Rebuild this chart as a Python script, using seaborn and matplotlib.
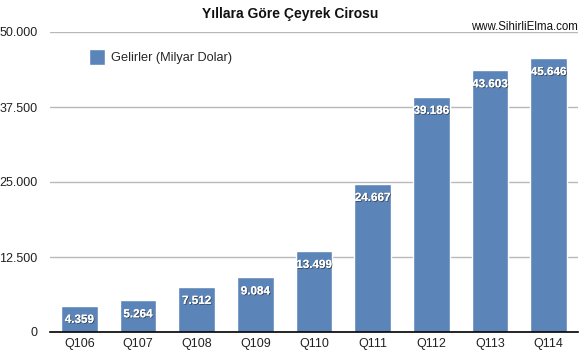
import matplotlib
matplotlib.use("Agg")
import matplotlib.pyplot as plt
import matplotlib.patheffects as pe
import seaborn as sns
import pandas as pd

quarters = ["Q106", "Q107", "Q108", "Q109", "Q110", "Q111", "Q112", "Q113", "Q114"]
revenues = [4.359, 5.264, 7.512, 9.084, 13.499, 24.667, 39.186, 43.603, 45.646]
yticks = [0, 12.5, 25, 37.5, 50]
ytick_labels = ["0", "12.500", "25.000", "37.500", "50.000"]
series_name = "Gelirler (Milyar Dolar)"
title = "Yıllara Göre Çeyrek Cirosu"
watermark = "www.SihirliElma.com"

df = pd.DataFrame({"Çeyrek": quarters, "Gelir": revenues})

sns.set_theme(style="white")
plt.rcParams["font.family"] = ["Liberation Sans", "DejaVu Sans"]

fig = plt.figure(figsize=(5.83, 3.55), dpi=100)
ax = fig.add_axes([50/583, 1 - 332/355, 528/583, 300/355])

bar_color = "#5b84b8"
sns.barplot(data=df, x="Çeyrek", y="Gelir", color=bar_color, width=0.63,
            saturation=1, ax=ax, zorder=3, label=series_name)

ax.set_ylim(0, 50)
ax.set_xlim(-0.5, len(quarters) - 0.5)
ax.set_yticks(yticks)
ax.set_yticklabels(ytick_labels, fontsize=9, color="#222222")
ax.tick_params(axis="x", labelsize=9, colors="#222222", length=0, pad=4)
ax.tick_params(axis="y", length=0, pad=9)
ax.set_xlabel("")
ax.set_ylabel("")
ax.yaxis.grid(True, color="#b8b8b8", linewidth=1, zorder=0)
for s in ["top", "right", "left"]:
    ax.spines[s].set_visible(False)
ax.spines["bottom"].set_color("black")
ax.spines["bottom"].set_linewidth(1.2)
ax.spines["bottom"].set_zorder(5)

for i, v in enumerate(revenues):
    t = ax.annotate(f"{v:.3f}", xy=(i, v), xytext=(0, -10), textcoords="offset points",
                    ha="center", va="center", color="white", fontsize=8.4,
                    fontweight="bold", zorder=6)
    t.set_path_effects([pe.withSimplePatchShadow(offset=(0.6, -0.6), shadow_rgbFace="#303030", alpha=0.8),
                        pe.Normal()])

leg = ax.legend(loc="center left", bbox_to_anchor=(0.076, 0.915), frameon=False,
                fontsize=9.2, handlelength=1.0, handleheight=1.0, handletextpad=0.6,
                borderaxespad=0, borderpad=0)
for h in leg.legend_handles:
    h.set_height(11.5)
    h.set_width(11.5)
    h.set_y(-3)
    h.set_x(-1)

fig.text(290/583, 1 - 14/355, title, ha="center", va="center", fontsize=10, fontweight="bold", color="#111111")
fig.text(578/583, 1 - 27/355, watermark, ha="right", va="center", fontsize=8.3, color="#111111")

fig.savefig("out.png", dpi=100)
